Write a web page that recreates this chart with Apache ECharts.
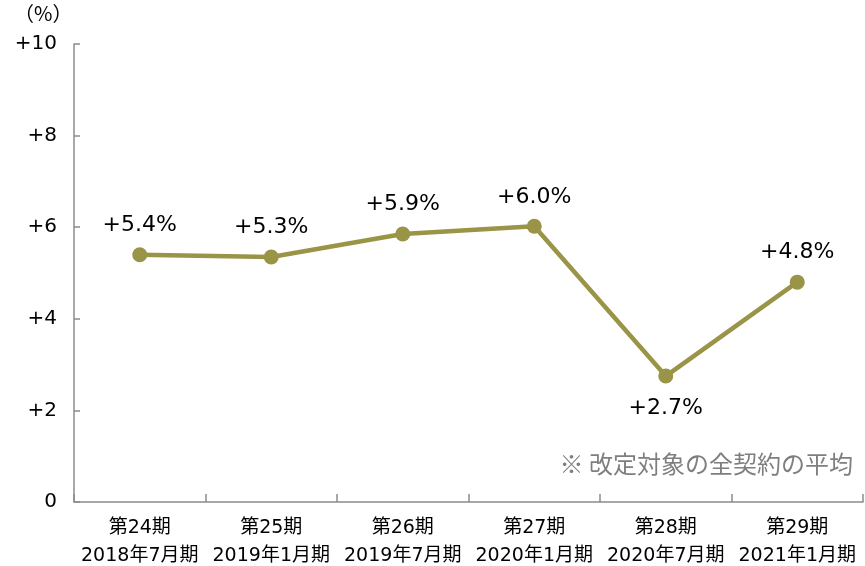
<!DOCTYPE html>
<html><head><meta charset="utf-8">
<script src="https://cdn.jsdelivr.net/npm/echarts@6/dist/echarts.min.js"></script>
<style>html,body{margin:0;padding:0;background:#fff}#c{width:865px;height:566px}</style>
</head><body><div id="c"></div>
<script>
var periods = ['第24期','第25期','第26期','第27期','第28期','第29期'];
var dates = ['2018年7月期','2019年1月期','2019年7月期','2020年1月期','2020年7月期','2021年1月期'];
var values = [5.4, 5.35, 5.85, 6.02, 2.75, 4.8];
var labels = ['+5.4%','+5.3%','+5.9%','+6.0%','+2.7%','+4.8%'];
var labelBelow = [false,false,false,false,true,false];
var yTicks = ['0','+2','+4','+6','+8','+10'];
var note = '※ 改定対象の全契約の平均';
var unit = '（%）';

var chart = echarts.init(document.getElementById('c'));
var cats = periods.map(function(p,i){return p+'\n'+dates[i];});
chart.setOption({
  animation:false,
  title:[
    {text:unit,left:14,top:3,padding:0,textStyle:{fontSize:20,fontWeight:'normal',fontFamily:'Noto Sans CJK JP',color:'#000'}},
    {text:note,right:12,top:452,padding:0,textStyle:{fontSize:24,fontWeight:'normal',fontFamily:'Noto Sans CJK JP',color:'#7f7f7f'}}
  ],
  grid:{left:74,right:2,top:44,bottom:64,outerBoundsMode:'none',containLabel:false},
  xAxis:{type:'category',data:cats,boundaryGap:true,
    axisLine:{lineStyle:{color:'#8c8c8c',width:1.5}},
    axisTick:{show:true,inside:true,length:8,lineStyle:{color:'#8c8c8c',width:1.5}},
    axisLabel:{interval:0,color:'#000',fontFamily:'DejaVu Sans, Noto Sans CJK JP',fontSize:19,lineHeight:28,margin:12}},
  yAxis:{type:'value',min:0,max:10,interval:2,
    axisLine:{show:true,lineStyle:{color:'#8c8c8c',width:1.5}},
    axisTick:{show:true,inside:true,length:6,lineStyle:{color:'#8c8c8c',width:1.5}},
    splitLine:{show:false},
    axisLabel:{color:'#000',fontFamily:'DejaVu Sans',fontSize:20,margin:17,
      formatter:function(v){return yTicks[Math.round(v/2)];}}},
  series:[{type:'line',data:values.map(function(v,i){
      return {value:v,label:{position:labelBelow[i]?'bottom':'top',distance:labelBelow[i]?14:11}};}),
    symbol:'circle',symbolSize:15,
    lineStyle:{color:'#9a9447',width:4.5},
    itemStyle:{color:'#9a9447'},
    label:{show:true,fontFamily:'DejaVu Sans',fontSize:22,color:'#000',
      formatter:function(p){return labels[p.dataIndex];}}}]
});
</script></body></html>
